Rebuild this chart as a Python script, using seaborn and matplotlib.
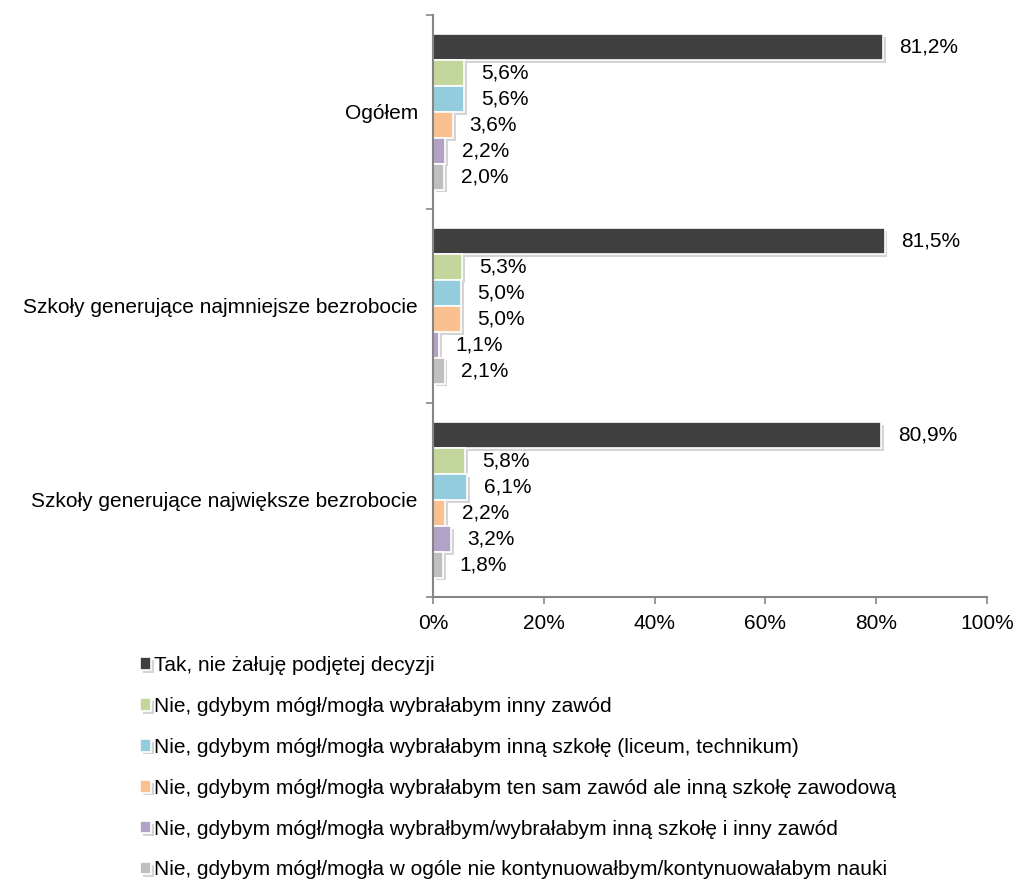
import pandas as pd
import matplotlib.pyplot as plt
import matplotlib.patheffects as pe
import numpy as np
import seaborn as sns

groups = ['Ogółem',
          'Szkoły generujące najmniejsze bezrobocie',
          'Szkoły generujące największe bezrobocie']
answers = ['Tak, nie żałuję podjętej decyzji',
           'Nie, gdybym mógł/mogła wybrałabym inny zawód',
           'Nie, gdybym mógł/mogła wybrałabym inną szkołę (liceum, technikum)',
           'Nie, gdybym mógł/mogła wybrałabym ten sam zawód ale inną szkołę zawodową',
           'Nie, gdybym mógł/mogła wybrałbym/wybrałabym inną szkołę i inny zawód',
           'Nie, gdybym mógł/mogła w ogóle nie kontynuowałbym/kontynuowałabym nauki']
ogolem = [81.2, 5.6, 5.6, 3.6, 2.2, 2.0]
najmniejsze = [81.5, 5.3, 5.0, 5.0, 1.1, 2.1]
najwieksze = [80.9, 5.8, 6.1, 2.2, 3.2, 1.8]
colors = ['#404040', '#C3D69B', '#93CDDD', '#FAC090', '#B3A2C7', '#BFBFBF']

rows = []
for g, vals in zip(groups, [ogolem, najmniejsze, najwieksze]):
    for a, v in zip(answers, vals):
        rows.append({'grupa': g, 'odp': a, 'val': v})
df = pd.DataFrame(rows)

sns.set_style('white')
plt.rcParams['font.family'] = ['Liberation Sans', 'DejaVu Sans']
plt.rcParams['text.color'] = 'black'
plt.rcParams['xtick.labelcolor'] = 'black'
plt.rcParams['ytick.labelcolor'] = 'black'

FS = 15

fig = plt.figure(figsize=(10.19, 8.8), dpi=100)
ax = fig.add_axes([0.425, 0.3216, 0.5436, 0.6614])

sns.barplot(data=df, y='grupa', x='val', hue='odp', order=groups,
            hue_order=answers, palette=colors, saturation=1, orient='h',
            width=0.8, edgecolor='white', linewidth=1.2, ax=ax, legend=True)

# soft drop shadow like the original office chart
shadow = [pe.SimplePatchShadow(offset=(2, -2), shadow_rgbFace='#aaaaaa', alpha=0.5), pe.Normal()]
for p in ax.patches:
    p.set_path_effects(shadow)

for cont in ax.containers:
    labels = [f'{v:.1f}%'.replace('.', ',') for v in cont.datavalues]
    ax.bar_label(cont, labels=labels, padding=12, fontsize=FS, color='black')

ax.set_xlim(0, 100)
ax.set_ylim(2.5, -0.5)
ax.set_xticks(np.arange(0, 101, 20))
ax.set_xticklabels([f'{t}%' for t in range(0, 101, 20)], fontsize=FS)
ax.set_yticks(range(len(groups)))
ax.set_yticklabels(groups, fontsize=FS)
ax.set_yticks([-0.5, 0.5, 1.5, 2.5], minor=True)
ax.tick_params(axis='y', which='major', length=0, pad=11)
ax.tick_params(axis='y', which='minor', length=5, width=1.2, color='#868686', left=True)
ax.tick_params(axis='x', length=5, width=1.2, color='#868686', bottom=True, pad=7)
ax.set_xlabel('')
ax.set_ylabel('')
for s in ['top', 'right']:
    ax.spines[s].set_visible(False)
for s in ['left', 'bottom']:
    ax.spines[s].set_color('#868686')
    ax.spines[s].set_linewidth(1.5)

handles, labs = ax.get_legend_handles_labels()
ax.get_legend().remove()
fig.legend(handles, labs, loc='upper left', bbox_to_anchor=(0.129, 0.264),
           frameon=False, fontsize=FS, handlelength=0.55, handleheight=0.55,
           handletextpad=0.15, labelspacing=1.05, borderaxespad=0)

fig.savefig('out.png', dpi=100)
